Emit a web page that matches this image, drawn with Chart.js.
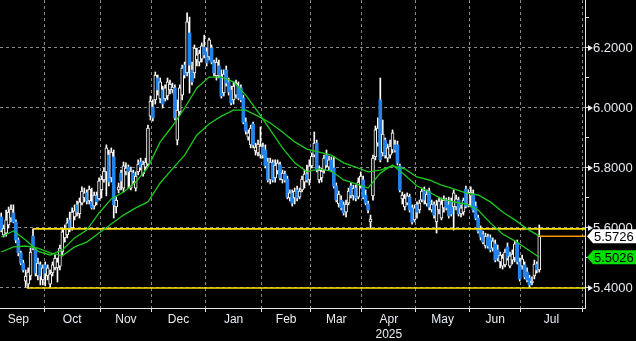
<!DOCTYPE html>
<html>
<head>
<meta charset="utf-8">
<title>USD/BRL daily</title>
<script src="https://cdn.jsdelivr.net/npm/chart.js@4.4.1/dist/chart.umd.min.js"></script>
<style>
  html, body { margin: 0; padding: 0; background: #000; }
  #price-canvas-area { position: relative; width: 636px; height: 341px; }
</style>
</head>
<body>
<div id="price-canvas-area"><canvas id="myPriceChart"></canvas></div>
<script>
// daily candles, index 0 = 5 Sep 2024, last = 10 Jul 2025
var opens = [
  5.637, 5.577, 5.583, 5.610, 5.633, 5.650, 5.620, 5.560, 5.517, 5.483,
  5.423, 5.413, 5.440, 5.573, 5.527, 5.440, 5.477, 5.427, 5.477, 5.440,
  5.413, 5.450, 5.467, 5.467, 5.473, 5.520, 5.567, 5.577, 5.627, 5.600,
  5.637, 5.677, 5.647, 5.683, 5.700, 5.717, 5.690, 5.687, 5.673, 5.707,
  5.697, 5.727, 5.760, 5.787, 5.843, 5.767, 5.837, 5.670, 5.727, 5.783,
  5.733, 5.787, 5.803, 5.733, 5.783, 5.733, 5.787, 5.820, 5.780, 5.803,
  5.813, 5.973, 6.003, 6.027, 6.100, 6.030, 6.060, 6.030, 6.040, 6.060,
  6.060, 6.067, 5.893, 5.987, 6.043, 6.143, 6.117, 6.250, 6.127, 6.117,
  6.160, 6.153, 6.163, 6.203, 6.187, 6.170, 6.200, 6.150, 6.107, 6.140,
  6.103, 6.050, 6.127, 6.087, 6.060, 6.027, 6.043, 6.073, 6.067, 6.033,
  5.953, 5.903, 5.877, 5.947, 5.857, 5.850, 5.843, 5.870, 5.860, 5.820,
  5.760, 5.817, 5.767, 5.790, 5.810, 5.760, 5.780, 5.763, 5.700, 5.717,
  5.700, 5.727, 5.703, 5.727, 5.753, 5.780, 5.760, 5.807, 5.843, 5.883,
  5.760, 5.767, 5.793, 5.843, 5.803, 5.827, 5.800, 5.740, 5.680, 5.693,
  5.677, 5.653, 5.683, 5.740, 5.707, 5.733, 5.703, 5.740, 5.760, 5.710,
  5.680, 5.620, 5.707, 5.837, 5.883, 6.027, 5.850, 5.893, 5.833, 5.843,
  5.860, 5.877, 5.877, 5.807, 5.697, 5.670, 5.683, 5.703, 5.667, 5.627,
  5.677, 5.660, 5.693, 5.723, 5.680, 5.723, 5.660, 5.677, 5.620, 5.660,
  5.633, 5.667, 5.690, 5.677, 5.687, 5.670, 5.670, 5.693, 5.647, 5.653,
  5.730, 5.677, 5.707, 5.713, 5.673, 5.633, 5.593, 5.577, 5.540, 5.570,
  5.567, 5.533, 5.547, 5.527, 5.487, 5.473, 5.477, 5.537, 5.473, 5.493,
  5.500, 5.550, 5.487, 5.473, 5.477, 5.453, 5.433, 5.417, 5.440, 5.480,
  5.460
];
var highs = [
  5.650, 5.610, 5.660, 5.670, 5.677, 5.677, 5.627, 5.567, 5.523, 5.493,
  5.460, 5.467, 5.533, 5.597, 5.533, 5.500, 5.487, 5.477, 5.487, 5.477,
  5.460, 5.487, 5.510, 5.500, 5.543, 5.600, 5.610, 5.633, 5.653, 5.667,
  5.677, 5.690, 5.700, 5.737, 5.733, 5.727, 5.740, 5.733, 5.720, 5.720,
  5.767, 5.773, 5.800, 5.877, 5.860, 5.867, 5.860, 5.703, 5.750, 5.793,
  5.820, 5.817, 5.810, 5.803, 5.793, 5.787, 5.827, 5.833, 5.823, 5.833,
  5.943, 6.040, 6.027, 6.120, 6.110, 6.100, 6.073, 6.077, 6.100, 6.093,
  6.083, 6.077, 6.027, 6.077, 6.143, 6.153, 6.317, 6.303, 6.153, 6.210,
  6.200, 6.193, 6.217, 6.243, 6.200, 6.233, 6.210, 6.160, 6.167, 6.160,
  6.127, 6.127, 6.140, 6.100, 6.073, 6.087, 6.093, 6.087, 6.077, 6.043,
  5.967, 5.927, 5.943, 5.953, 5.883, 5.893, 5.937, 5.883, 5.877, 5.833,
  5.833, 5.827, 5.827, 5.827, 5.820, 5.793, 5.790, 5.773, 5.727, 5.727,
  5.733, 5.740, 5.733, 5.773, 5.793, 5.810, 5.827, 5.850, 5.920, 5.893,
  5.807, 5.800, 5.843, 5.860, 5.840, 5.837, 5.837, 5.750, 5.723, 5.707,
  5.687, 5.693, 5.733, 5.750, 5.743, 5.743, 5.767, 5.787, 5.773, 5.727,
  5.690, 5.643, 5.843, 5.940, 5.967, 6.100, 5.960, 5.900, 5.880, 5.893,
  5.927, 5.893, 5.890, 5.813, 5.720, 5.713, 5.717, 5.713, 5.677, 5.677,
  5.687, 5.693, 5.733, 5.737, 5.727, 5.733, 5.693, 5.687, 5.693, 5.703,
  5.700, 5.707, 5.700, 5.703, 5.700, 5.727, 5.710, 5.703, 5.677, 5.700,
  5.740, 5.727, 5.737, 5.727, 5.687, 5.643, 5.607, 5.590, 5.583, 5.580,
  5.577, 5.567, 5.560, 5.543, 5.520, 5.513, 5.530, 5.550, 5.520, 5.527,
  5.557, 5.560, 5.500, 5.510, 5.487, 5.467, 5.443, 5.437, 5.493, 5.487,
  5.610
];
var lows = [
  5.587, 5.570, 5.573, 5.600, 5.620, 5.617, 5.550, 5.507, 5.477, 5.453,
  5.403, 5.400, 5.427, 5.527, 5.440, 5.427, 5.410, 5.410, 5.407, 5.427,
  5.403, 5.440, 5.460, 5.420, 5.460, 5.507, 5.553, 5.567, 5.587, 5.593,
  5.627, 5.640, 5.633, 5.677, 5.687, 5.680, 5.680, 5.663, 5.663, 5.677,
  5.693, 5.700, 5.753, 5.707, 5.740, 5.753, 5.633, 5.650, 5.717, 5.727,
  5.720, 5.777, 5.733, 5.727, 5.747, 5.723, 5.777, 5.793, 5.773, 5.793,
  5.807, 5.960, 5.957, 6.013, 6.043, 6.017, 6.000, 6.023, 6.027, 6.047,
  6.050, 5.960, 5.877, 5.977, 6.027, 6.100, 6.107, 6.050, 6.077, 6.100,
  6.140, 6.140, 6.153, 6.167, 6.140, 6.160, 6.147, 6.107, 6.093, 6.100,
  6.033, 6.040, 6.073, 6.043, 6.010, 6.013, 6.033, 6.027, 6.020, 5.947,
  5.913, 5.893, 5.867, 5.867, 5.843, 5.840, 5.833, 5.833, 5.800, 5.753,
  5.747, 5.753, 5.753, 5.780, 5.760, 5.750, 5.753, 5.697, 5.690, 5.673,
  5.680, 5.690, 5.697, 5.720, 5.733, 5.753, 5.743, 5.800, 5.837, 5.787,
  5.750, 5.753, 5.783, 5.803, 5.793, 5.787, 5.733, 5.687, 5.670, 5.660,
  5.643, 5.637, 5.677, 5.700, 5.693, 5.690, 5.697, 5.733, 5.697, 5.677,
  5.650, 5.600, 5.693, 5.827, 5.873, 5.820, 5.840, 5.833, 5.820, 5.833,
  5.850, 5.853, 5.810, 5.720, 5.680, 5.660, 5.677, 5.653, 5.613, 5.620,
  5.633, 5.650, 5.687, 5.680, 5.673, 5.660, 5.653, 5.633, 5.583, 5.647,
  5.627, 5.653, 5.660, 5.633, 5.640, 5.593, 5.660, 5.640, 5.637, 5.643,
  5.667, 5.670, 5.670, 5.653, 5.627, 5.583, 5.560, 5.547, 5.533, 5.533,
  5.520, 5.523, 5.487, 5.490, 5.467, 5.463, 5.470, 5.493, 5.467, 5.480,
  5.487, 5.480, 5.423, 5.463, 5.430, 5.420, 5.403, 5.410, 5.430, 5.450,
  5.453
];
var closes = [
  5.593, 5.600, 5.627, 5.653, 5.663, 5.620, 5.560, 5.517, 5.483, 5.460,
  5.440, 5.453, 5.520, 5.533, 5.450, 5.483, 5.440, 5.467, 5.450, 5.467,
  5.447, 5.477, 5.500, 5.487, 5.533, 5.587, 5.597, 5.617, 5.600, 5.653,
  5.657, 5.653, 5.687, 5.723, 5.717, 5.690, 5.730, 5.667, 5.710, 5.687,
  5.757, 5.763, 5.790, 5.867, 5.753, 5.853, 5.677, 5.693, 5.737, 5.757,
  5.807, 5.800, 5.787, 5.790, 5.757, 5.773, 5.813, 5.803, 5.813, 5.820,
  5.933, 6.023, 5.967, 6.110, 6.060, 6.087, 6.013, 6.067, 6.087, 6.080,
  6.070, 5.967, 5.993, 6.067, 6.133, 6.110, 6.287, 6.143, 6.087, 6.200,
  6.177, 6.183, 6.207, 6.177, 6.150, 6.227, 6.153, 6.117, 6.153, 6.110,
  6.040, 6.113, 6.083, 6.053, 6.017, 6.073, 6.083, 6.033, 6.027, 5.953,
  5.923, 5.917, 5.933, 5.877, 5.870, 5.880, 5.873, 5.843, 5.807, 5.760,
  5.820, 5.760, 5.810, 5.817, 5.767, 5.783, 5.760, 5.703, 5.717, 5.683,
  5.723, 5.700, 5.723, 5.763, 5.780, 5.760, 5.807, 5.840, 5.883, 5.793,
  5.793, 5.790, 5.833, 5.810, 5.827, 5.793, 5.740, 5.693, 5.713, 5.667,
  5.650, 5.680, 5.723, 5.710, 5.733, 5.700, 5.753, 5.773, 5.703, 5.683,
  5.660, 5.630, 5.833, 5.927, 5.933, 5.827, 5.913, 5.843, 5.867, 5.873,
  5.917, 5.860, 5.817, 5.727, 5.710, 5.700, 5.707, 5.660, 5.620, 5.667,
  5.653, 5.683, 5.723, 5.693, 5.713, 5.670, 5.680, 5.643, 5.677, 5.690,
  5.680, 5.693, 5.667, 5.640, 5.647, 5.717, 5.697, 5.647, 5.667, 5.693,
  5.673, 5.717, 5.720, 5.660, 5.633, 5.590, 5.570, 5.553, 5.573, 5.540,
  5.527, 5.557, 5.493, 5.500, 5.510, 5.500, 5.520, 5.500, 5.507, 5.513,
  5.547, 5.487, 5.430, 5.497, 5.437, 5.427, 5.410, 5.423, 5.480, 5.460,
  5.5726
];

// moving averages, one reading every 5 sessions
var maStep = 5;
var fastMA = [
  5.570, 5.590, 5.560, 5.523, 5.510, 5.527, 5.567, 5.593, 5.650, 5.697,
  5.720, 5.753, 5.803, 5.887, 5.940, 6.000, 6.067, 6.103, 6.103, 6.087,
  6.043, 5.987, 5.927, 5.867, 5.817, 5.787, 5.797, 5.790, 5.760, 5.747,
  5.733, 5.783, 5.810, 5.777, 5.740, 5.720, 5.697, 5.687, 5.680, 5.660,
  5.617, 5.580, 5.557, 5.530, 5.5026
];
var slowMA = [
  5.520, 5.537, 5.540, 5.533, 5.517, 5.507, 5.537, 5.553, 5.583, 5.613,
  5.643, 5.667, 5.687, 5.750, 5.797, 5.843, 5.910, 5.947, 5.973, 5.993,
  5.993, 5.973, 5.950, 5.920, 5.887, 5.863, 5.853, 5.843, 5.817, 5.803,
  5.787, 5.793, 5.807, 5.797, 5.770, 5.760, 5.743, 5.730, 5.717, 5.710,
  5.687, 5.653, 5.627, 5.597, 5.573
];

// session index where each month starts (last one = Aug)
var monthStarts = [-3, 18, 41, 62, 84, 107, 127, 148, 170, 192, 213, 238];
var monthNames = ['Sep', 'Oct', 'Nov', 'Dec', 'Jan', 'Feb', 'Mar', 'Apr', 'May', 'Jun', 'Jul'];
var yearMonth = 'Apr';
var yearText = '2025';

var yTicks = [5.4, 5.5, 5.6, 5.7, 5.8, 5.9, 6.0, 6.1, 6.2, 6.3];
var yLabelled = [5.4, 5.6, 5.8, 6.0, 6.2];

var upperLevel = 5.597, upperFrom = 13;
var lowerLevel = 5.400, lowerFrom = 10.5;
var lastPrice = 5.5726;
var lastMA = 5.5026;

var xMin = -0.5, xMax = 238.7;
var yMin = 5.3333, yMax = 6.36;

var textColor = '#e8edf2';
var gridColor = '#8a8a8a';
var candleBlue = '#2383e8';
var maGreen = '#1ec81e';
var fontFamily = "'Liberation Sans', Arial, sans-serif";

var wickData = [];
var bodyData = [];
for (var i = 0; i < closes.length; i++) {
  wickData.push({x: i, y: [lows[i], highs[i]]});
  bodyData.push({x: i, y: [opens[i], closes[i]]});
}

function maPoints(arr) {
  return arr.map(function(v, k) { return {x: k * maStep, y: v}; });
}
function isUp(i) { return closes[i] >= opens[i]; }

// x ticks: dotted grid at month starts, names in the middle of each month
var xTickList = [];
monthStarts.forEach(function(s) {
  if (s - 0.5 > xMin) xTickList.push({value: s - 0.5, grid: true, label: ''});
});
monthNames.forEach(function(name, k) {
  var mid = (monthStarts[k] + monthStarts[k + 1]) / 2 - 0.5;
  xTickList.push({value: mid, grid: false, label: name === yearMonth ? [name, yearText] : name});
});
xTickList.sort(function(a, b) { return a.value - b.value; });

function isLabelled(v) {
  return yLabelled.some(function(l) { return Math.abs(l - v) < 1e-6; });
}

function drawTag(ctx, x0, py, value, fill, right) {
  ctx.beginPath();
  ctx.moveTo(x0 + 2, py);
  ctx.lineTo(x0 + 8, py - 7);
  ctx.lineTo(right, py - 7);
  ctx.lineTo(right, py + 7);
  ctx.lineTo(x0 + 8, py + 7);
  ctx.closePath();
  ctx.fillStyle = fill;
  ctx.fill();
  ctx.fillStyle = '#000';
  ctx.font = '13px ' + fontFamily;
  ctx.textBaseline = 'middle';
  ctx.textAlign = 'left';
  ctx.fillText(value.toFixed(4), x0 + 9, py + 1);
}

var priceTags = {
  id: 'priceTags',
  afterDraw: function(chart) {
    var ctx = chart.ctx;
    var y = chart.scales.y;
    var x0 = chart.chartArea.right;
    ctx.save();
    ctx.fillStyle = textColor;
    yLabelled.forEach(function(v) {
      var py = y.getPixelForValue(v);
      ctx.beginPath();
      ctx.moveTo(x0 + 3, py - 3);
      ctx.lineTo(x0 + 8, py);
      ctx.lineTo(x0 + 3, py + 3);
      ctx.closePath();
      ctx.fill();
    });
    drawTag(ctx, x0, y.getPixelForValue(lastPrice), lastPrice, '#ffffff', chart.width);
    drawTag(ctx, x0, y.getPixelForValue(lastMA), lastMA, '#00e000', chart.width);
    ctx.restore();
  }
};

var ctx = document.getElementById('myPriceChart');

var priceGraph = new Chart(ctx, {
  type: 'bar',
  data: {
    datasets: [
      {
        type: 'line', label: 'MA fast', data: maPoints(fastMA),
        borderColor: maGreen, borderWidth: 1.3, pointRadius: 0, tension: 0
      },
      {
        type: 'line', label: 'MA slow', data: maPoints(slowMA),
        borderColor: maGreen, borderWidth: 1.3, pointRadius: 0, tension: 0
      },
      {
        type: 'line', label: 'upper', data: [{x: upperFrom, y: upperLevel}, {x: xMax, y: upperLevel}],
        borderColor: '#ffe000', borderWidth: 1.6, pointRadius: 0
      },
      {
        type: 'line', label: 'lower', data: [{x: lowerFrom, y: lowerLevel}, {x: xMax, y: lowerLevel}],
        borderColor: '#ffe000', borderWidth: 1.6, pointRadius: 0
      },
      {
        type: 'line', label: 'last', data: [{x: closes.length - 1, y: lastPrice}, {x: xMax, y: lastPrice}],
        borderColor: '#ff9900', borderWidth: 1.6, pointRadius: 0
      },
      {
        label: 'body', data: bodyData, grouped: false, barThickness: 3, minBarLength: 1,
        borderSkipped: false,
        backgroundColor: function(c) { return isUp(c.dataIndex) ? '#000000' : candleBlue; },
        borderColor: function(c) { return isUp(c.dataIndex) ? '#ffffff' : candleBlue; },
        borderWidth: function(c) { return isUp(c.dataIndex) ? 1 : 0; }
      },
      {
        label: 'wick', data: wickData, grouped: false, barThickness: 1,
        backgroundColor: '#ffffff', borderWidth: 0
      }
    ]
  },
  options: {
    responsive: true,
    maintainAspectRatio: false,
    animation: false,
    layout: {padding: 0},
    plugins: {legend: {display: false}, tooltip: {enabled: false}},
    scales: {
      x: {
        type: 'linear', min: xMin, max: xMax, offset: false,
        grid: {
          offset: false, lineWidth: 1, tickLength: 4,
          color: function(c) { return xTickList[c.index] && xTickList[c.index].grid ? gridColor : 'rgba(0,0,0,0)'; },
          tickColor: function(c) { return xTickList[c.index] && xTickList[c.index].grid ? '#e6e6e6' : 'rgba(0,0,0,0)'; }
        },
        border: {color: '#e6e6e6', width: 1, dash: [3, 3]},
        ticks: {
          autoSkip: false, maxRotation: 0, padding: 0, color: textColor,
          font: {size: 12, family: fontFamily, lineHeight: 1.25},
          callback: function(value, index) { return xTickList[index] ? xTickList[index].label : ''; }
        },
        afterBuildTicks: function(axis) {
          axis.ticks = xTickList.map(function(t) { return {value: t.value}; });
        },
        afterFit: function(scale) {
          scale.height = 33;
          scale.paddingLeft = 0;
          scale.paddingRight = 0;
        }
      },
      y: {
        position: 'right', min: yMin, max: yMax,
        grid: {
          lineWidth: 1, tickLength: 4,
          color: function(c) { return c.tick && isLabelled(c.tick.value) ? gridColor : 'rgba(0,0,0,0)'; },
          tickColor: '#e6e6e6'
        },
        border: {color: '#e6e6e6', width: 1, dash: [3, 3]},
        ticks: {
          autoSkip: false, padding: 4, color: textColor,
          font: {size: 13, family: fontFamily},
          callback: function(value) { return isLabelled(value) ? value.toFixed(4) : ''; }
        },
        afterBuildTicks: function(axis) {
          axis.ticks = yTicks.map(function(v) { return {value: v}; });
        },
        afterFit: function(scale) {
          scale.width = 51;
          scale.paddingTop = 0;
          scale.paddingBottom = 0;
        }
      }
    }
  },
  plugins: [priceTags]
});
</script>
</body>
</html>
